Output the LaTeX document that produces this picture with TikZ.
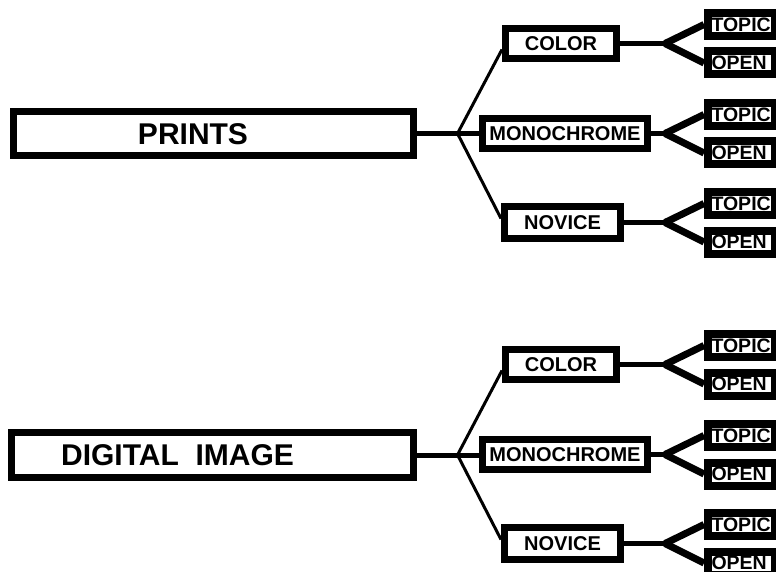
\documentclass[tikz,border=0pt]{standalone}
\usepackage{fontspec}
\setmainfont{Liberation Sans}
\usetikzlibrary{calc}
\tikzset{
  rootbox/.style={draw, line width=7pt, fill=white, inner sep=0pt},
  roottext/.style={inner sep=0pt, font=\fontsize{30}{34}\selectfont\bfseries},
  midbox/.style={draw, line width=7pt, fill=white, inner sep=0pt, font=\fontsize{20}{24}\selectfont\bfseries},
  leafbox/.style={draw, line width=8pt, fill=white, inner xsep=3.5pt, inner ysep=0pt,
    minimum height=23pt, text width=60pt, align=left, font=\fontsize{19.5}{22}\selectfont\bfseries},
  trunk/.style={line width=5pt},
  branch/.style={line width=3pt},
  forkline/.style={line width=7pt},
}
\begin{document}
\begin{tikzpicture}[x=1pt,y=-1pt]
\clip (0,0) rectangle (776,572);
\fill[white] (0,0) rectangle (776,572);

% root boxes
\node[rootbox, minimum width=400pt, minimum height=44pt] (root1) at (213.5,133.5) {};
\node[roottext] (root1t) at (193,134) {PRINTS};
\node[rootbox, minimum width=402pt, minimum height=45pt] (root2) at (212.5,455) {};
\node[roottext] (root2t) at (177.5,455) {DIGITAL~ IMAGE};

\foreach \g/\off in {1/0, 2/321} {
  \coordinate (J\g) at ($(root\g.east)+(40.5,0)$);
  \foreach \m/\c/\x/\w/\h/\t in {color/43.5/561/111/30/COLOR, mono/133.5/565/165/30/MONOCHROME, novice/222.5/562.5/116/32/NOVICE} {
    \node[midbox, minimum width=\w pt, minimum height=\h pt] (\m\g) at (\x,{\c+\off}) {\t};
    \coordinate (F\m\g) at (665,{\c+\off});
    \node[leafbox] (topic\m\g) at (741.5,{\c+\off-19}) {TOPIC};
    \node[leafbox] (open\m\g) at (741.5,{\c+\off+19.5}) {OPEN};
    \draw[trunk] (\m\g.east) -- (F\m\g);
    \draw[forkline] (F\m\g) -- (topic\m\g.west);
    \draw[forkline] (F\m\g) -- (open\m\g.west);
  }
  \draw[trunk] (root\g.east) -- (J\g) -- (J\g -| mono\g.west);
  \draw[branch] (J\g) -- ($(color\g.west)+(0,6)$);
  \draw[branch] (J\g) -- ($(novice\g.west)+(0,-4)$);
}
\end{tikzpicture}
\end{document}
